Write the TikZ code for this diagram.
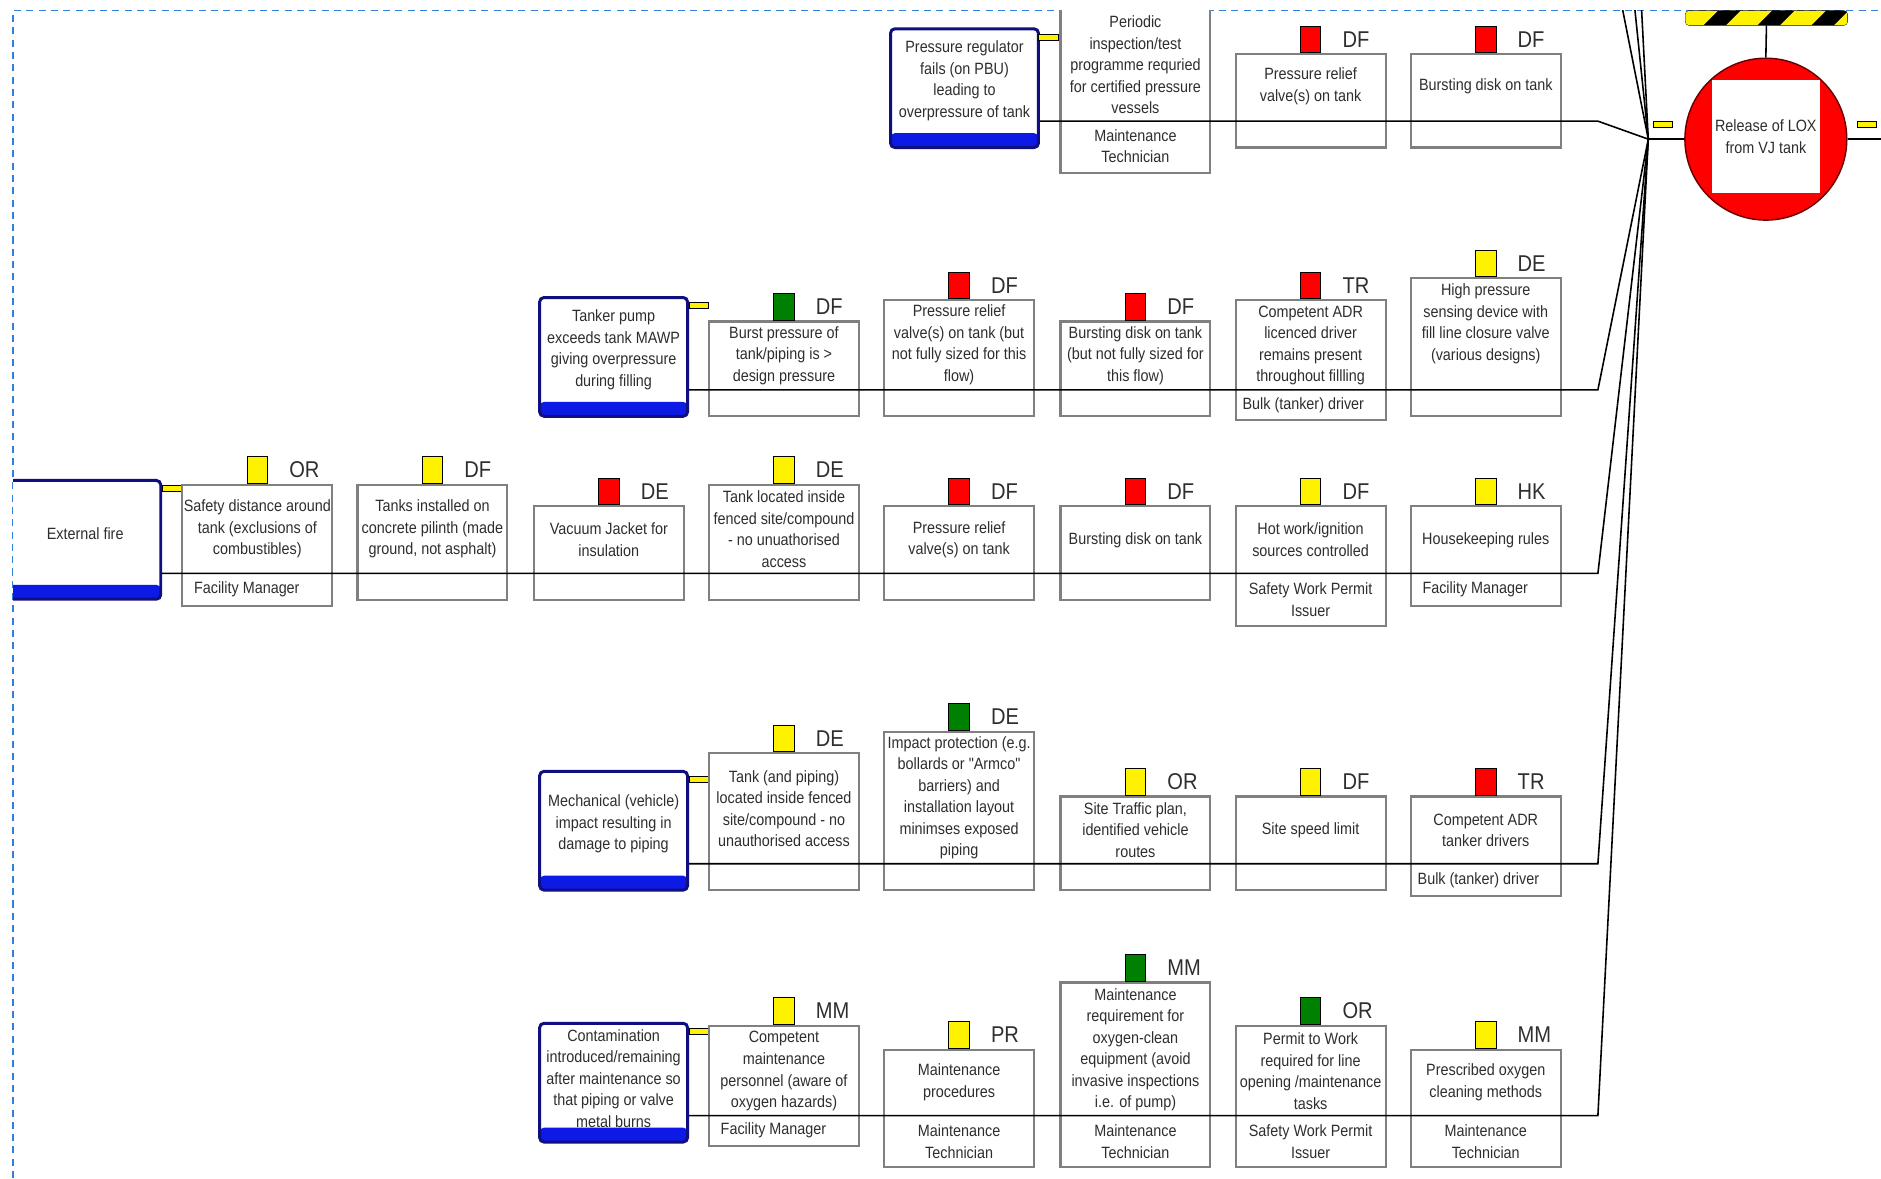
\documentclass[tikz,border=0pt]{standalone}
\usepackage{fontspec}
\newfontfamily\boxfont[FakeStretch=0.88]{Liberation Sans}
\usepackage{tikz}
\usetikzlibrary{positioning}
\definecolor{tedge}{rgb}{0.06,0.06,0.50}
\definecolor{tband}{rgb}{0.05,0.10,0.90}
\definecolor{bedge}{gray}{0.50}
\definecolor{txtgray}{gray}{0.18}
\definecolor{okgreen}{rgb}{0.00,0.50,0.00}
\definecolor{frameblue}{rgb}{0.20,0.50,0.85}
\tikzset{
  link/.style={black,line width=0.9pt},
  bbox/.style={draw=bedge,fill=white,line width=1.2pt,minimum width=3cm,minimum height=#1*0.024cm,inner sep=0},
  threat/.style={draw=tedge,fill=white,line width=1.7pt,rounded corners=2.5pt,minimum width=2.96cm,minimum height=2.376cm,inner sep=0,
    path picture={\fill[tband] (path picture bounding box.south west) rectangle ([yshift=0.288cm]path picture bounding box.south east);}},
  btxt/.style={font=\boxfont\fontsize{9.3}{12.25}\selectfont,align=center,text=txtgray,inner sep=0},
  code/.style={font=\boxfont\fontsize{13}{13}\selectfont,text=txtgray,inner sep=0},
  sq/.style={draw=black,fill=#1,line width=0.5pt,minimum width=0.408cm,minimum height=0.528cm,inner sep=0},
  conn/.style={draw=black,fill=yellow,line width=0.6pt,minimum width=0.384cm,minimum height=0.12cm,inner sep=0},
}
\begin{document}
\begin{tikzpicture}[x=0.024cm,y=-0.024cm]
  \def\cA{214.5}\def\cB{360.5}\def\cC{507.5}\def\cD{653.5}
  \def\cE{799.5}\def\cF{946.5}\def\cG{1092.5}\def\cH{1238.5}
  \useasboundingbox (0,0) rectangle (1568,982);
  % frame
  \draw[frameblue,dash pattern=on 4pt off 3pt,line width=0.8pt] (11,982) -- (11,9) -- (1568,9);
  \begin{scope}
  \clip (11,9) rectangle (1568,982);
  \coordinate (conv) at (1374,116);
  % row 1 -- regulator
  \node[threat] (t1) at (804,73.5) {};
  \node[btxt] (t1x) at (804,67.5) {Pressure regulator\\fails (on PBU)\\leading to\\overpressure of tank};
  \node[conn] (k1) at (874,31) {};
  \node[bbox=164] (b11) at (\cF,62) {};
  \node[btxt] (b11x) at (\cF,54) {Periodic\\inspection/test\\programme requried\\for certified pressure\\vessels};
  \node[btxt] (b11y) at (\cF,122) {Maintenance\\Technician};
  \node[bbox=78] (b12) at (\cG,84) {};
  \node[sq=red,above=0pt of b12] (q12) {};
  \node[code,right=0.42cm of q12] (c12) {DF};
  \node[btxt] (b12x) at (\cG,72) {Pressure relief\\valve(s) on tank};
  \node[bbox=78] (b13) at (\cH,84) {};
  \node[sq=red,above=0pt of b13] (q13) {};
  \node[code,right=0.42cm of q13] (c13) {DF};
  \node[btxt] (b13x) at (\cH,72) {Bursting disk on tank};
  \coordinate (e1) at (1332,101);
  \draw[link] (t1.east |- e1) -- (e1) -- (conv);
  % row 2 -- tanker pump
  \node[threat] (t2) at (511.5,297.5) {};
  \node[btxt] (t2x) at (511.5,291.5) {Tanker pump\\exceeds tank MAWP\\giving overpressure\\during filling};
  \node[conn] (k2) at (582.5,255) {};
  \node[bbox=79] (b21) at (\cD,307.5) {};
  \node[sq=okgreen,above=0pt of b21] (q21) {};
  \node[code,right=0.42cm of q21] (c21) {DF};
  \node[btxt] (b21x) at (\cD,296.5) {Burst pressure of\\tank/piping is >\\design pressure};
  \node[bbox=97] (b22) at (\cE,298.5) {};
  \node[sq=red,above=0pt of b22] (q22) {};
  \node[code,right=0.42cm of q22] (c22) {DF};
  \node[btxt] (b22x) at (\cE,287.5) {Pressure relief\\valve(s) on tank (but\\not fully sized for this\\flow)};
  \node[bbox=79] (b23) at (\cF,307.5) {};
  \node[sq=red,above=0pt of b23] (q23) {};
  \node[code,right=0.42cm of q23] (c23) {DF};
  \node[btxt] (b23x) at (\cF,296.5) {Bursting disk on tank\\(but not fully sized for\\this flow)};
  \node[bbox=100] (b24) at (\cG,300) {};
  \node[sq=red,above=0pt of b24] (q24) {};
  \node[code,right=0.42cm of q24] (c24) {TR};
  \node[btxt] (b24x) at (\cG,288) {Competent ADR\\licenced driver\\remains present\\throughout fillling};
  \node[btxt,anchor=west] (b24y) at (\cG-57,337.5) {Bulk (tanker) driver};
  \node[bbox=115] (b25) at (\cH,289.5) {};
  \node[sq=yellow,above=0pt of b25] (q25) {};
  \node[code,right=0.42cm of q25] (c25) {DE};
  \node[btxt] (b25x) at (\cH,270) {High pressure\\sensing device with\\fill line closure valve\\(various designs)};
  \coordinate (e2) at (1332,325);
  \draw[link] (t2.east |- e2) -- (e2) -- (conv);
  % row 3 -- external fire
  \node[threat,minimum width=3.12cm] (t3) at (69,450) {};
  \node[btxt] (t3x) at (71,445) {External fire};
  \node[conn] (k3) at (143.5,407) {};
  \node[bbox=101] (b31) at (\cA,454.5) {};
  \node[sq=yellow,above=0pt of b31] (q31) {};
  \node[code,right=0.42cm of q31] (c31) {OR};
  \node[btxt] (b31x) at (\cA,441) {Safety distance around\\tank (exclusions of\\combustibles)};
  \node[btxt,anchor=west] (b31y) at (\cA-53,491.5) {Facility Manager};
  \node[bbox=96] (b32) at (\cB,452) {};
  \node[sq=yellow,above=0pt of b32] (q32) {};
  \node[code,right=0.42cm of q32] (c32) {DF};
  \node[btxt] (b32x) at (\cB,441) {Tanks installed on\\concrete pilinth (made\\ground, not asphalt)};
  \node[bbox=78] (b33) at (\cC,461) {};
  \node[sq=red,above=0pt of b33] (q33) {};
  \node[code,right=0.42cm of q33] (c33) {DE};
  \node[btxt] (b33x) at (\cC,450) {Vacuum Jacket for\\insulation};
  \node[bbox=96] (b34) at (\cD,452) {};
  \node[sq=yellow,above=0pt of b34] (q34) {};
  \node[code,right=0.42cm of q34] (c34) {DE};
  \node[btxt] (b34x) at (\cD,441) {Tank located inside\\fenced site/compound\\- no unuathorised\\access};
  \node[bbox=78] (b35) at (\cE,461) {};
  \node[sq=red,above=0pt of b35] (q35) {};
  \node[code,right=0.42cm of q35] (c35) {DF};
  \node[btxt] (b35x) at (\cE,450) {Pressure relief\\valve(s) on tank};
  \node[bbox=78] (b36) at (\cF,461) {};
  \node[sq=red,above=0pt of b36] (q36) {};
  \node[code,right=0.42cm of q36] (c36) {DF};
  \node[btxt] (b36x) at (\cF,450) {Bursting disk on tank};
  \node[bbox=100] (b37) at (\cG,472) {};
  \node[sq=yellow,above=0pt of b37] (q37) {};
  \node[code,right=0.42cm of q37] (c37) {DF};
  \node[btxt] (b37x) at (\cG,450) {Hot work/ignition\\sources controlled};
  \node[btxt] (b37y) at (\cG,500) {Safety Work Permit\\Issuer};
  \node[bbox=83] (b38) at (\cH,463.5) {};
  \node[sq=yellow,above=0pt of b38] (q38) {};
  \node[code,right=0.42cm of q38] (c38) {HK};
  \node[btxt] (b38x) at (\cH,450) {Housekeeping rules};
  \node[btxt,anchor=west] (b38y) at (\cH-53,491.5) {Facility Manager};
  \coordinate (e3) at (1332,478);
  \draw[link] (t3.east |- e3) -- (e3) -- (conv);
  % row 4 -- vehicle impact
  \node[threat] (t4) at (511.5,692.5) {};
  \node[btxt] (t4x) at (511.5,687) {Mechanical (vehicle)\\impact resulting in\\damage to piping};
  \node[conn] (k4) at (582.5,650) {};
  \node[bbox=114] (b41) at (\cD,685) {};
  \node[sq=yellow,above=0pt of b41] (q41) {};
  \node[code,right=0.42cm of q41] (c41) {DE};
  \node[btxt] (b41x) at (\cD,674) {Tank (and piping)\\located inside fenced\\site/compound - no\\unauthorised access};
  \node[bbox=132] (b42) at (\cE,676) {};
  \node[sq=okgreen,above=0pt of b42] (q42) {};
  \node[code,right=0.42cm of q42] (c42) {DE};
  \node[btxt] (b42x) at (\cE,665) {Impact protection (e.g.\\bollards or "Armco"\\barriers) and\\installation layout\\minimses exposed\\piping};
  \node[bbox=78] (b43) at (\cF,703) {};
  \node[sq=yellow,above=0pt of b43] (q43) {};
  \node[code,right=0.42cm of q43] (c43) {OR};
  \node[btxt] (b43x) at (\cF,692) {Site Traffic plan,\\identified vehicle\\routes};
  \node[bbox=78] (b44) at (\cG,703) {};
  \node[sq=yellow,above=0pt of b44] (q44) {};
  \node[code,right=0.42cm of q44] (c44) {DF};
  \node[btxt] (b44x) at (\cG,692) {Site speed limit};
  \node[bbox=83] (b45) at (\cH,705.5) {};
  \node[sq=red,above=0pt of b45] (q45) {};
  \node[code,right=0.42cm of q45] (c45) {TR};
  \node[btxt] (b45x) at (\cH,692) {Competent ADR\\tanker drivers};
  \node[btxt,anchor=west] (b45y) at (\cH-57,733.5) {Bulk (tanker) driver};
  \coordinate (e4) at (1332,720);
  \draw[link] (t4.east |- e4) -- (e4) -- (conv);
  % row 5 -- contamination
  \node[threat] (t5) at (511.5,902.5) {};
  \node[btxt] (t5x) at (511.5,899) {Contamination\\introduced/remaining\\after maintenance so\\that piping or valve\\metal burns};
  \node[conn] (k5) at (582.5,860) {};
  \node[bbox=100] (b51) at (\cD,905) {};
  \node[sq=yellow,above=0pt of b51] (q51) {};
  \node[code,right=0.42cm of q51] (c51) {MM};
  \node[btxt] (b51x) at (\cD,893) {Competent\\maintenance\\personnel (aware of\\oxygen hazards)};
  \node[btxt,anchor=west] (b51y) at (\cD-53,942.5) {Facility Manager};
  \node[bbox=98] (b52) at (\cE,924) {};
  \node[sq=yellow,above=0pt of b52] (q52) {};
  \node[code,right=0.42cm of q52] (c52) {PR};
  \node[btxt] (b52x) at (\cE,902) {Maintenance\\procedures};
  \node[btxt] (b52y) at (\cE,951.5) {Maintenance\\Technician};
  \node[bbox=154] (b53) at (\cF,896) {};
  \node[sq=okgreen,above=0pt of b53] (q53) {};
  \node[code,right=0.42cm of q53] (c53) {MM};
  \node[btxt] (b53x) at (\cF,875) {Maintenance\\requirement for\\oxygen-clean\\equipment (avoid\\invasive inspections\\i.e. of pump)};
  \node[btxt] (b53y) at (\cF,951.5) {Maintenance\\Technician};
  \node[bbox=118] (b54) at (\cG,914) {};
  \node[sq=okgreen,above=0pt of b54] (q54) {};
  \node[code,right=0.42cm of q54] (c54) {OR};
  \node[btxt] (b54x) at (\cG,893) {Permit to Work\\required for line\\opening /maintenance\\tasks};
  \node[btxt] (b54y) at (\cG,951.5) {Safety Work Permit\\Issuer};
  \node[bbox=98] (b55) at (\cH,924) {};
  \node[sq=yellow,above=0pt of b55] (q55) {};
  \node[code,right=0.42cm of q55] (c55) {MM};
  \node[btxt] (b55x) at (\cH,902) {Prescribed oxygen\\cleaning methods};
  \node[btxt] (b55y) at (\cH,951.5) {Maintenance\\Technician};
  \coordinate (e5) at (1332,930);
  \draw[link] (t5.east |- e5) -- (e5) -- (conv);
  % threats from rows above the view
  \coordinate (u1) at (1351,0);
  \coordinate (u2) at (1362,0);
  \coordinate (u3) at (1368,0);
  \draw[link] (u1) -- (conv);
  \draw[link] (u2) -- (conv);
  \draw[link] (u3) -- (conv);
  % top event
  \node[draw=black,fill=black,rounded corners=2pt,minimum width=3.24cm,minimum height=0.288cm,inner sep=0] (hz) at (1472.5,15) {};
  \begin{scope}
    \clip[rounded corners=2pt] (1405,9) rectangle (1540,21);
    \fill[yellow] (1394,21) -- (1420,21) -- (1432,9) -- (1406,9) -- cycle;
    \fill[yellow] (1439,21) -- (1465,21) -- (1477,9) -- (1451,9) -- cycle;
    \fill[yellow] (1484,21) -- (1510,21) -- (1522,9) -- (1496,9) -- cycle;
    \fill[yellow] (1529,21) -- (1555,21) -- (1567,9) -- (1541,9) -- cycle;
  \end{scope}
  \node[circle,fill=red,draw=black!60!red,line width=0.8pt,minimum size=3.24cm,inner sep=0] (lox) at (1472,116) {};
  \node[btxt,fill=white,minimum width=2.16cm,minimum height=2.256cm] (loxq) at (1472,114) {Release of LOX\\from VJ tank};
  \coordinate (rgt) at (1570,116);
  \draw[link] (hz.south) -- (lox.north);
  \draw[link] (conv) -- (lox.west);
  \draw[link] (lox.east) -- (rgt);
  \node[conn] (kL) at (1386,104) {};
  \node[conn] (kR) at (1556,104) {};
  \end{scope}
\end{tikzpicture}
\end{document}
